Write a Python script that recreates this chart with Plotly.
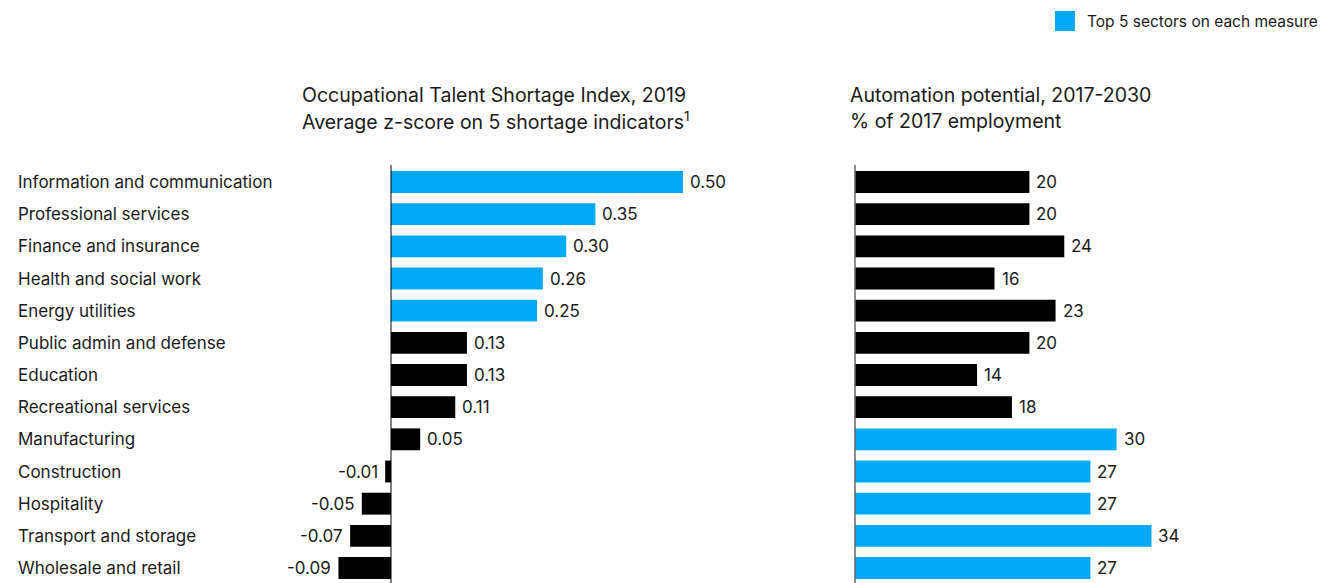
import plotly.graph_objects as go

sectors = [
    "Information and communication", "Professional services", "Finance and insurance",
    "Health and social work", "Energy utilities", "Public admin and defense", "Education",
    "Recreational services", "Manufacturing", "Construction", "Hospitality",
    "Transport and storage", "Wholesale and retail",
]
shortage_index = [0.50, 0.35, 0.30, 0.26, 0.25, 0.13, 0.13, 0.11, 0.05, -0.01, -0.05, -0.07, -0.09]
automation_potential = [20, 20, 24, 16, 23, 20, 14, 18, 30, 27, 27, 34, 27]
shortage_top5 = [True] * 5 + [False] * 8
automation_top5 = [False] * 8 + [True] * 5

BLUE = "#00A9F4"
BLACK = "#000000"
TXT = "#1a1a1a"
# page has an 8px body margin; figure is sized to fill the rest of the window
OFF = 8
W, H = 1329 - OFF, 583 - OFF
FONT = "Inter, Liberation Sans, Arial, sans-serif"


def px(x):  # screenshot x -> paper
    return (x - OFF) / W


def py(y):  # screenshot y -> paper
    return 1 - (y - OFF) / H


fig = go.Figure()
fig.add_trace(go.Bar(
    x=shortage_index, y=sectors, orientation="h",
    marker=dict(color=[BLUE if t else BLACK for t in shortage_top5], line=dict(width=0)),
    width=0.68, xaxis="x", yaxis="y", showlegend=False, hoverinfo="skip",
))
fig.add_trace(go.Bar(
    x=automation_potential, y=sectors, orientation="h",
    marker=dict(color=[BLUE if t else BLACK for t in automation_top5], line=dict(width=0)),
    width=0.68, xaxis="x2", yaxis="y2", showlegend=False, hoverinfo="skip",
))

ytop = py(165)
yrange = [12 + (583 - 568) / 32.17, -(182 - 165) / 32.17]
common_y = dict(domain=[0, ytop], range=yrange, type="category", categoryorder="array",
                categoryarray=sectors, showticklabels=False, showgrid=False, zeroline=False,
                showline=False, ticks="")
common_x = dict(showticklabels=False, showgrid=False, zeroline=False, showline=False, ticks="")

L0, L1, Z1, S1 = 280, 760, 391, 584.0
R0, Z2, S2 = 840, 855, 8.72
fig.update_layout(
    width=W, height=H, margin=dict(l=0, r=0, t=0, b=0),
    paper_bgcolor="white", plot_bgcolor="white",
    font=dict(family=FONT, color=TXT, size=17),
    xaxis=dict(domain=[px(L0), px(L1)], range=[(L0 - Z1) / S1, (L1 - Z1) / S1], **common_x),
    xaxis2=dict(domain=[px(R0), 1], range=[(R0 - Z2) / S2, (1329 - Z2) / S2], **common_x),
    yaxis=dict(anchor="x", **common_y),
    yaxis2=dict(anchor="x2", **common_y),
)

shapes = [
    dict(type="line", xref="x", yref="paper", x0=0, x1=0, y0=0, y1=ytop,
         line=dict(color="#000", width=1)),
    dict(type="line", xref="x2", yref="paper", x0=0, x1=0, y0=0, y1=ytop,
         line=dict(color="#666", width=1.5)),
    dict(type="rect", xref="paper", yref="paper", x0=px(1055), x1=px(1075),
         y0=py(31), y1=py(11), fillcolor=BLUE, line=dict(width=0)),
]
fig.update_layout(shapes=shapes)

annotations = []
for s in sectors:
    annotations.append(dict(text=s, xref="paper", yref="y", x=px(16), y=s, xanchor="left",
                            yanchor="middle", showarrow=False, font=dict(size=17, color=TXT)))

for s, v in zip(sectors, shortage_index):
    annotations.append(dict(text=f"{v:.2f}", xref="x", yref="y", x=v, y=s,
                            xanchor="left" if v >= 0 else "right", xshift=5 if v >= 0 else -5,
                            yanchor="middle", showarrow=False, font=dict(size=17, color=TXT)))
for s, v in zip(sectors, automation_potential):
    annotations.append(dict(text=f"{v:.0f}", xref="x2", yref="y2", x=v, y=s,
                            xanchor="left", xshift=5,
                            yanchor="middle", showarrow=False, font=dict(size=17, color=TXT)))


def txt(t, x, y, size):
    annotations.append(dict(text=t, xref="paper", yref="paper", x=px(x), y=py(y),
                            xanchor="left", yanchor="middle", showarrow=False,
                            font=dict(size=size, color=TXT)))


txt("Occupational Talent Shortage Index, 2019", 300, 95, 19.5)
txt("Average z-score on 5 shortage indicators<sup>1</sup>", 300, 121, 19.5)
txt("Automation potential, 2017-2030", 848, 95, 19.5)
txt("% of 2017 employment", 848, 121, 19.5)
txt("Top 5 sectors on each measure", 1085, 21, 15.5)
fig.update_layout(annotations=annotations)

fig.write_html("out.html")
